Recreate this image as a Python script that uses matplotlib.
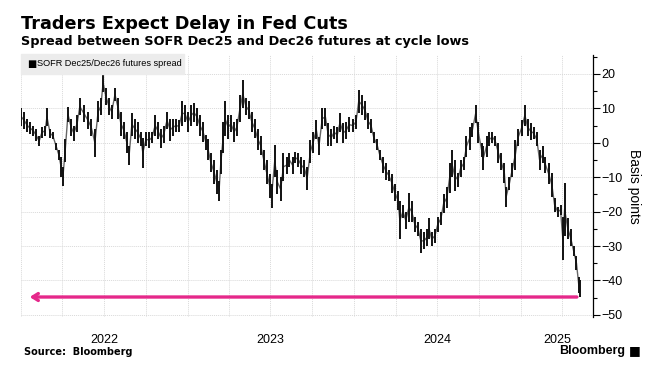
import matplotlib
matplotlib.use('Agg')
import matplotlib.pyplot as plt
import pandas as pd

# high/low of the SOFR Dec25/Dec26 futures spread (bp)
dates = [
    '2022-01-02', '2022-01-08', '2022-01-15', '2022-01-21', '2022-01-28', '2022-02-03', '2022-02-10',
    '2022-02-16', '2022-02-23', '2022-02-27', '2022-03-06', '2022-03-12', '2022-03-19', '2022-03-25',
    '2022-03-30', '2022-04-03', '2022-04-08', '2022-04-14', '2022-04-21', '2022-04-27', '2022-05-04',
    '2022-05-10', '2022-05-19', '2022-05-28', '2022-06-04', '2022-06-12', '2022-06-19', '2022-06-25',
    '2022-06-30', '2022-07-06', '2022-07-13', '2022-07-19', '2022-07-26', '2022-08-02', '2022-08-08',
    '2022-08-15', '2022-08-21', '2022-08-26', '2022-09-01', '2022-09-08', '2022-09-14', '2022-09-21',
    '2022-09-25', '2022-10-02', '2022-10-09', '2022-10-15', '2022-10-22', '2022-10-28', '2022-11-04',
    '2022-11-10', '2022-11-17', '2022-11-24', '2022-11-30', '2022-12-07', '2022-12-13', '2022-12-20',
    '2022-12-26', '2023-01-02', '2023-01-09', '2023-01-15', '2023-01-22', '2023-01-28', '2023-02-04',
    '2023-02-10', '2023-02-15', '2023-02-21', '2023-02-28', '2023-03-06', '2023-03-11', '2023-03-15',
    '2023-03-20', '2023-03-24', '2023-03-31', '2023-04-06', '2023-04-13', '2023-04-19', '2023-04-26',
    '2023-05-02', '2023-05-09', '2023-05-15', '2023-05-22', '2023-05-28', '2023-06-04', '2023-06-10',
    '2023-06-17', '2023-06-23', '2023-06-30', '2023-07-04', '2023-07-11', '2023-07-17', '2023-07-24',
    '2023-07-30', '2023-08-06', '2023-08-12', '2023-08-19', '2023-08-25', '2023-09-01', '2023-09-07',
    '2023-09-14', '2023-09-20', '2023-09-27', '2023-10-03', '2023-10-10', '2023-10-16', '2023-10-23',
    '2023-10-30', '2023-11-05', '2023-11-12', '2023-11-18', '2023-11-25', '2023-12-01', '2023-12-08',
    '2023-12-14', '2023-12-21', '2023-12-29', '2024-01-05', '2024-01-11', '2024-01-18', '2024-01-25',
    '2024-01-31', '2024-02-07', '2024-02-13', '2024-02-20', '2024-02-26', '2024-03-04', '2024-03-11',
    '2024-03-17', '2024-03-24', '2024-03-30', '2024-04-06', '2024-04-10', '2024-04-17', '2024-04-23',
    '2024-04-30', '2024-05-06', '2024-05-13', '2024-05-20', '2024-05-26', '2024-06-02', '2024-06-08',
    '2024-06-13', '2024-06-19', '2024-06-26', '2024-07-02', '2024-07-09', '2024-07-15', '2024-07-22',
    '2024-07-28', '2024-08-02', '2024-08-08', '2024-08-15', '2024-08-21', '2024-08-28', '2024-09-03',
    '2024-09-10', '2024-09-16', '2024-09-23', '2024-09-29', '2024-10-06', '2024-10-10', '2024-10-17',
    '2024-10-23', '2024-10-30', '2024-11-05', '2024-11-12', '2024-11-18', '2024-11-25', '2024-11-29',
    '2024-12-06', '2024-12-12', '2024-12-19', '2024-12-25', '2025-01-02', '2025-01-09', '2025-01-15',
    '2025-01-22', '2025-01-28', '2025-02-04', '2025-02-10', '2025-02-17', '2025-02-23', '2025-03-02',
    '2025-03-09', '2025-03-15', '2025-03-22', '2025-03-28', '2025-04-02', '2025-04-06', '2025-04-13',
    '2025-04-19', '2025-04-26', '2025-05-02', '2025-05-07', '2025-05-09',
]
lows = [
    5, 4, 3, 2.5, 2, 0.5, -1, 1.5, 2, 5, 1.5, 1, -2, -5, -10, -12.7, -5.5, 6, 2, 0.5, 3,
    8, 6, 4, 2, -4, 6, 8, 14.8, 11, 8, 7, 12, 7, 2, 1, -3, -6.4, 2, 1, 0, -1,
    -7.3, -1, -1.5, 0, 2, 1, -1.5, 0, 4, 0.5, 2, 3, 3, 5, 6, 3, 5, 6, 5, 2, 0.3,
    -2, -5, -8.4, -12, -15, -17, -9, -3, 2, 1, 3, 0.3, 2, 6, 10, 8, 7, 3, 1.5, -2,
    -3.5, -8, -12, -16, -19, -10, -15, -17, -11, -9, -7, -9, -6, -7, -9, -10, -13.7, -6, -3,
    1, -3.5, 4, 5, -1, -1, 1, 0, 3, 0, 1, 3, 3, 4, 8.7, 8, 6.7, 4, 2.9, 0, -2,
    -5, -8.7, -10.7, -11, -14.5, -17, -19.5, -28, -22, -25, -23, -23, -26, -27, -32, -31, -30,
    -28, -30, -29, -26, -24, -20.3, -19, -14.5, -10, -14, -12.8, -10, -8, -4, -2, 1.7, 5.8, 0,
    -4, -7.8, -4, -1, 0, -1, -6, -8, -11.6, -18.6, -13.7, -10, -7.8, -1, 2, 5, 2, 0.8, 1,
    -1, -7.8, -6, -8.7, -12, -15.7, -20, -21.5, -21, -34, -27, -28, -30, -33, -37, -43.6, -44.8,
]
highs = [
    10, 9, 7, 6, 5, 4, 2, 4.5, 5, 10, 4, 3, 0, -2, -4, -7, 1, 10.5, 7, 5, 8,
    13, 11, 9, 7, 4, 12, 13, 20, 16, 13, 11, 16, 13, 9, 6, 3, -1, 8.7, 7, 6, 3,
    1.5, 3, 3, 3, 8, 6, 4, 5, 9, 7, 7, 7, 6.5, 12, 11, 9, 11, 11.5, 10, 8, 6,
    2.3, 1, -3, -5, -8, -11, -2, 6, 12, 8, 8, 6, 7, 14, 18.3, 13, 12, 9, 7, 4,
    2, -2, -5, -9, -12, -0.6, -8, -10, -3, -4, -3, -4, -2.6, -3, -4, -5, -7, 0.8, 3,
    6.7, 1.7, 10, 10, 5.8, 4, 5, 4.6, 8.7, 5.8, 6, 7.5, 7, 8, 15.4, 14, 12, 8.7, 7, 3, 1,
    -2, -4, -6, -8, -9, -12, -14, -17, -18, -20, -14.5, -17, -21.5, -23, -25, -26, -25,
    -22, -26, -25, -21.5, -20, -15, -13, -6, -2, -5, -8.7, -5, -4, 2, 4.6, 5.8, 11, 6,
    0, -1, 2, 3, 3.2, 2, 0, -3, -6, -12.8, -10, -6, 0.8, 4, 6.7, 11, 7, 5.8, 4.6,
    3, -2, -1, -4, -6, -8.7, -16, -18.6, -18, -21.5, -11.6, -22, -25, -30, -33, -39, -40,
]
cycle_low = -44.8
arrow_start = '2022-01-14'
arrow_end = '2025-05-09'
year_labels = ['2022', '2023', '2024', '2025']
year_label_pos = ['2022-07-02', '2023-07-02', '2024-07-02', '2025-03-20']
x_start, x_end = '2022-01-01', '2025-06-07'
pink = '#e5288a'

df = pd.DataFrame({'date': pd.to_datetime(dates), 'low': lows, 'high': highs})
df['mid'] = (df['low'] + df['high']) / 2

fig = plt.figure(figsize=(6.54, 3.71), dpi=100)
ax = fig.add_axes([0.032, 0.1456, 0.8746, 0.7064])

# quarterly vertical grid + horizontal grid
for q in pd.date_range(x_start, x_end, freq='QS'):
    ax.axvline(q, color='#d9d9d9', lw=0.7, ls=(0, (1, 1)), zorder=0)
for v in range(-50, 30, 10):
    ax.axhline(v, color='#d9d9d9', lw=0.7, ls=(0, (1, 1)), zorder=0)

ax.plot(df['date'], df['mid'], color='#666666', lw=1.0, zorder=2)
ax.vlines(df['date'], df['low'], df['high'], color='#111111', lw=1.4, zorder=3)

ax.annotate('', xy=(pd.Timestamp(arrow_start), cycle_low),
            xytext=(pd.Timestamp(arrow_end), cycle_low),
            arrowprops=dict(arrowstyle='->,head_length=0.4,head_width=0.25', color=pink, lw=2.4),
            zorder=4)

ax.set_xlim(pd.Timestamp(x_start), pd.Timestamp(x_end))
ax.set_ylim(-50.6, 25.5)

ax.yaxis.tick_right()
ax.yaxis.set_label_position('right')
ax.set_yticks(range(-50, 30, 10))
ax.set_yticks(range(-50, 30, 5), minor=True)
ax.tick_params(axis='y', which='major', length=5, width=0.8, pad=1, labelsize=9)
ax.tick_params(axis='y', which='minor', length=3, width=0.8)
for t in ax.get_yticklabels():
    t.set_fontfamily('Liberation Sans')
ax.set_ylabel('Basis points', rotation=270, labelpad=13, fontsize=10, family='Liberation Sans')

ax.set_xticks([pd.Timestamp(d) for d in year_label_pos])
ax.set_xticklabels(year_labels, family='Liberation Sans', fontsize=9)
ax.tick_params(axis='x', length=0, pad=12)

for s in ['top', 'left', 'bottom']:
    ax.spines[s].set_visible(False)
ax.spines['right'].set_linewidth(0.9)

# legend tag at top-left
fig.patches.append(plt.Rectangle((21 / 654, 1 - 74 / 371), 163 / 654, 20 / 371,
                                 transform=fig.transFigure, color='#ececec', zorder=5))
fig.text(27 / 654, 1 - 64 / 371, '\u25a0', fontsize=7, va='center', color='black', zorder=6)
fig.text(37 / 654, 1 - 64 / 371, 'SOFR Dec25/Dec26 futures spread', fontsize=6.6,
         family='Liberation Sans', va='center', zorder=6)

fig.text(21 / 654, 1 - 24 / 371, 'Traders Expect Delay in Fed Cuts', fontsize=12.7,
         fontweight='bold', va='center')
fig.text(21 / 654, 1 - 42 / 371, 'Spread between SOFR Dec25 and Dec26 futures at cycle lows',
         fontsize=9.3, fontweight='bold', va='center')
fig.text(24 / 654, 1 - 352 / 371, 'Source:  Bloomberg', fontsize=7, fontweight='bold', va='center')
fig.text(625 / 654, 1 - 351 / 371, 'Bloomberg', fontsize=9, fontweight='bold', va='center',
         ha='right', family='Liberation Sans')
fig.text(629 / 654, 1 - 351 / 371, '\u25a0', fontsize=9, va='center', ha='left')

fig.savefig('out.png', dpi=100)
